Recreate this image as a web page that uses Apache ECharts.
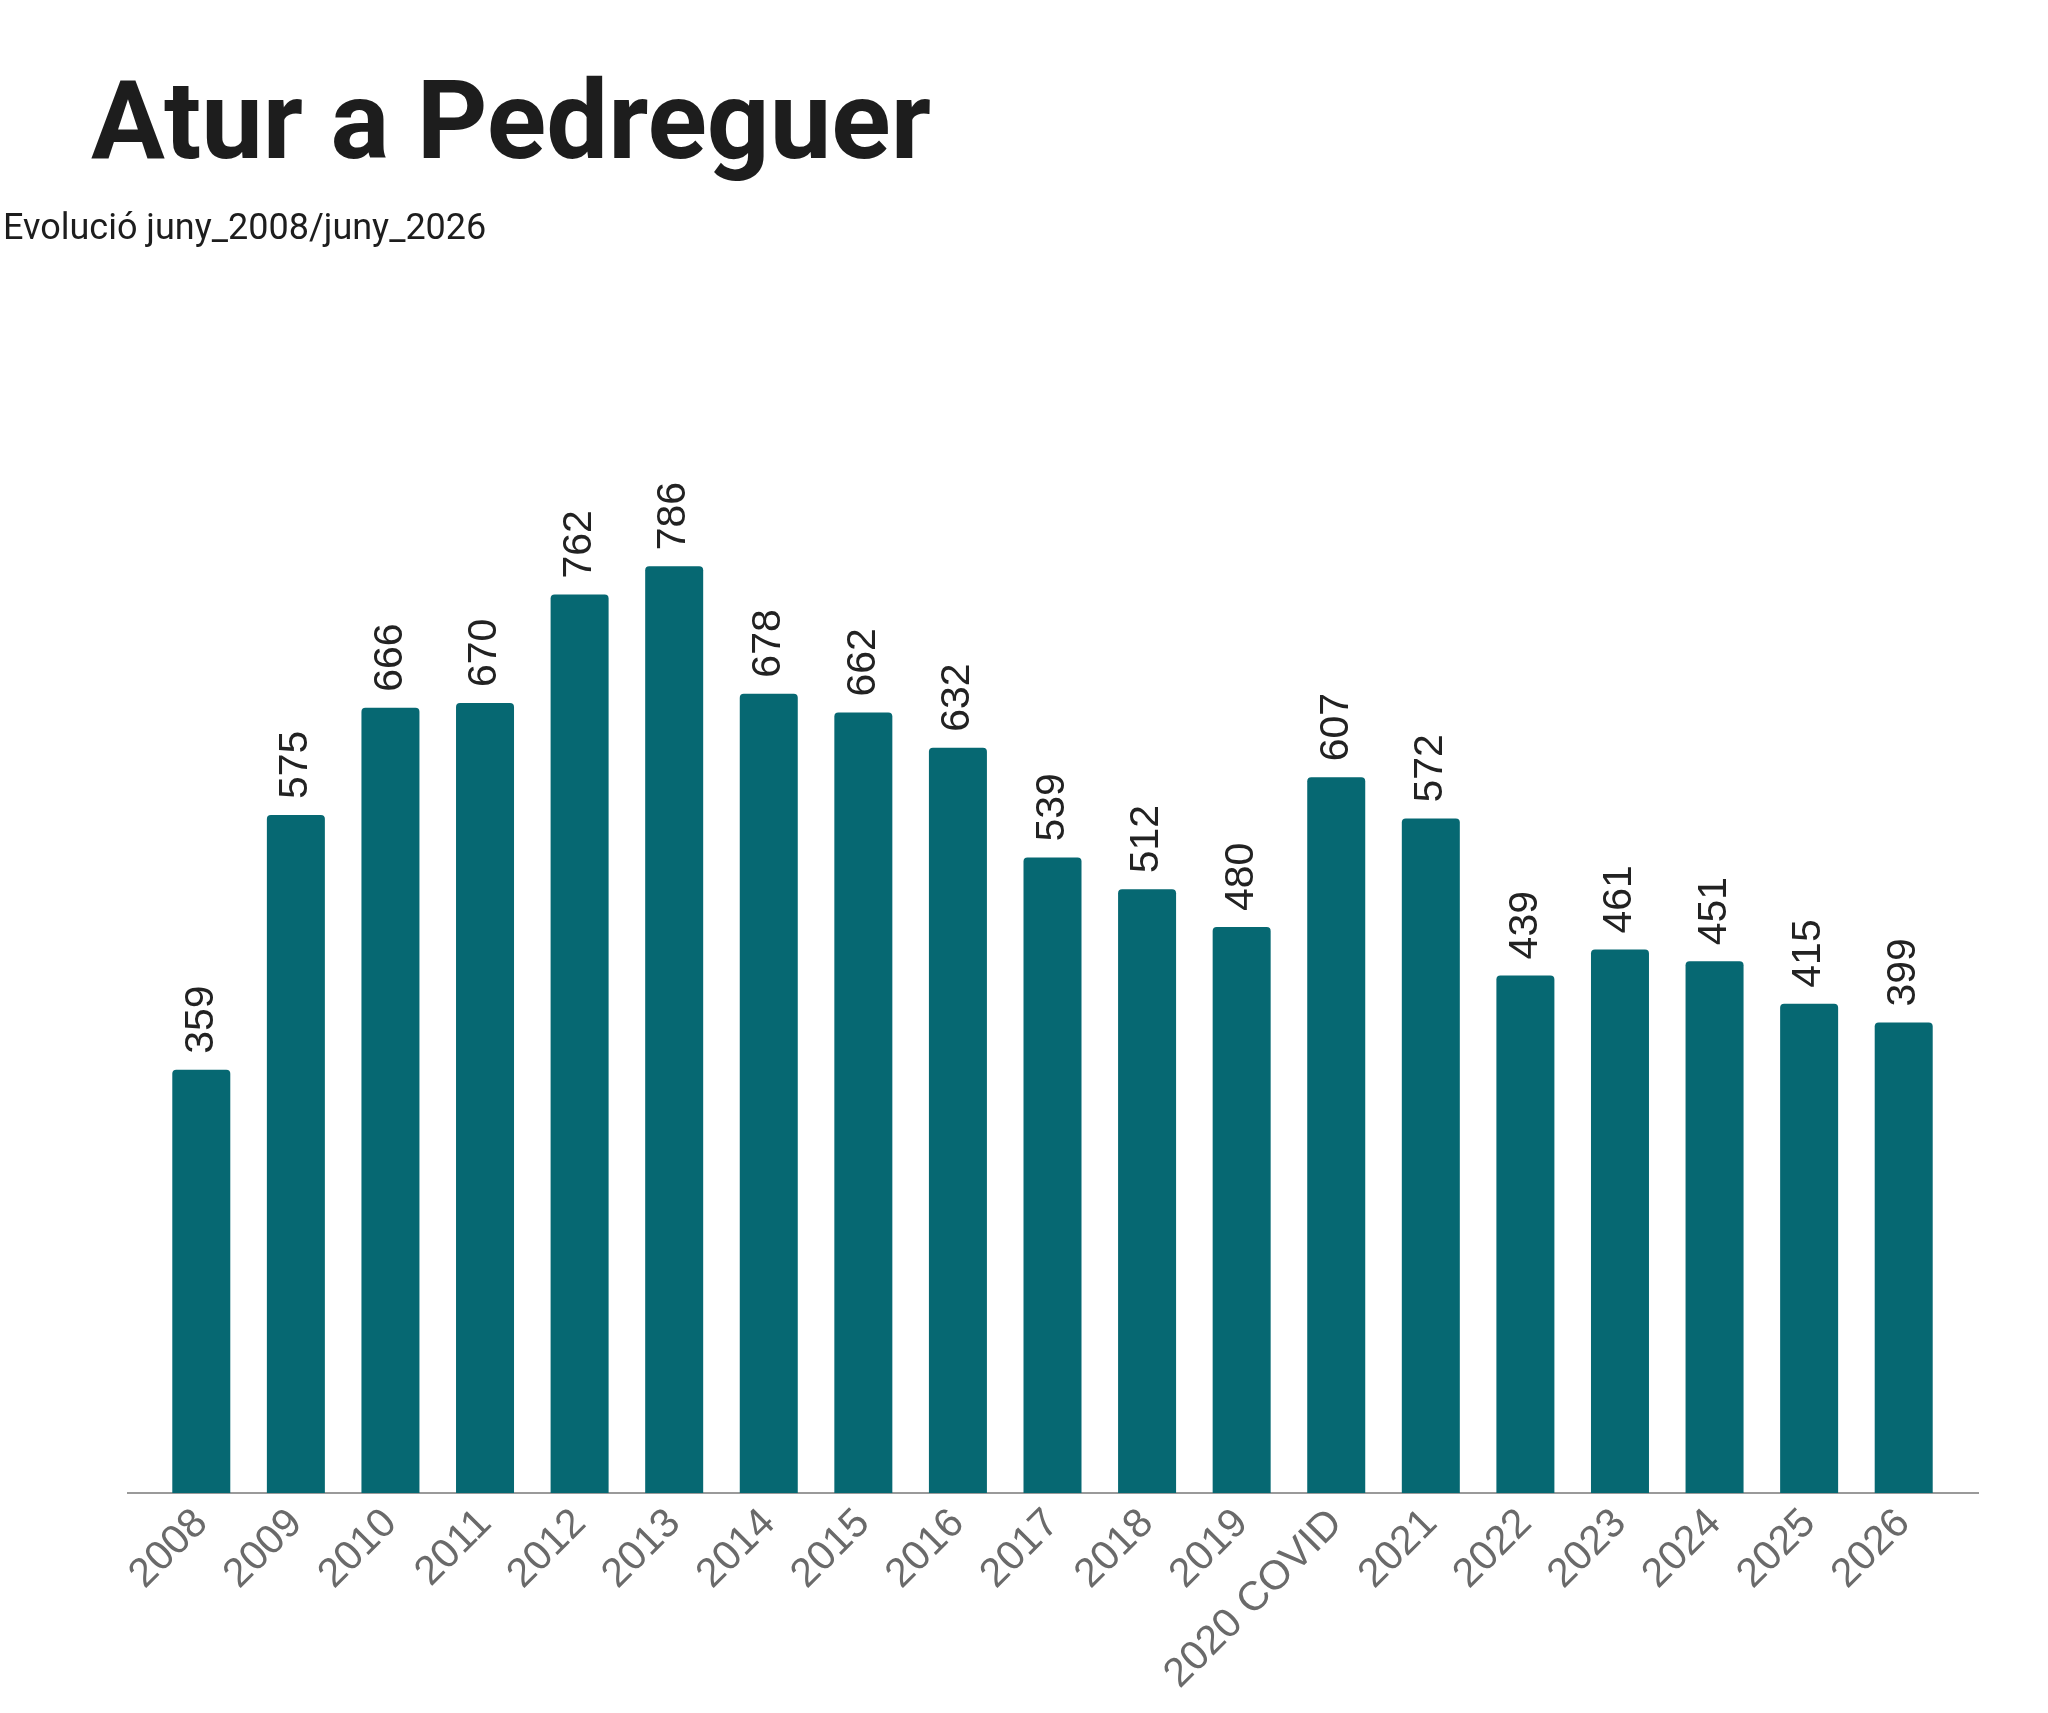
<!DOCTYPE html>
<html>
<head>
<meta charset="utf-8">
<script src="https://cdn.jsdelivr.net/npm/echarts@6/dist/echarts.min.js"></script>
<style>
  html, body { margin: 0; padding: 0; background: #fff; }
  #chart { width: 2048px; height: 1713px; }
</style>
</head>
<body>
<div id="chart"></div>
<script>
const years = ['2008', '2009', '2010', '2011', '2012', '2013', '2014', '2015', '2016', '2017',
  '2018', '2019', '2020 COVID', '2021', '2022', '2023', '2024', '2025', '2026']
const atur = [359, 575, 666, 670, 762, 786, 678, 662, 632, 539,
  512, 480, 607, 572, 439, 461, 451, 415, 399]

const chart = echarts.init(document.getElementById('chart'))

chart.setOption({
  backgroundColor: '#fff',
  animation: false,
  title: [
    {
      text: 'Atur a Pedreguer',
      left: 86,
      top: 70,
      textStyle: { fontFamily: 'Roboto', fontWeight: 'bold', fontSize: 110, color: '#1d1d1d' }
    },
    {
      text: 'Evolució juny_2008/juny_2026',
      left: -2,
      top: 207,
      textStyle: { fontFamily: 'Roboto', fontWeight: 'normal', fontSize: 36, color: '#1d1d1d' }
    }
  ],
  grid: { left: 154, right: 97, top: 314, bottom: 220 },
  xAxis: {
    type: 'category',
    data: years,
    axisLine: { show: false },
    axisTick: { show: false },
    axisLabel: {
      rotate: 45,
      margin: 24,
      interval: 0,
      fontFamily: 'Liberation Sans',
      fontSize: 41,
      color: '#6a6a6a'
    }
  },
  yAxis: {
    type: 'value',
    min: 0,
    max: 1000,
    show: false
  },
  graphic: [
    {
      type: 'line',
      shape: { x1: 127, y1: 1493, x2: 1979, y2: 1493 },
      style: { stroke: '#9a9a9a', lineWidth: 2 }
    }
  ],
  series: [
    {
      type: 'bar',
      data: atur,
      barWidth: 58,
      itemStyle: { color: '#066872', borderRadius: [4, 4, 0, 0] },
      label: {
        show: true,
        position: 'top',
        rotate: 90,
        align: 'left',
        verticalAlign: 'middle',
        distance: 16,
        fontFamily: 'Liberation Sans',
        fontSize: 41,
        color: '#222'
      }
    }
  ]
})
</script>
</body>
</html>
